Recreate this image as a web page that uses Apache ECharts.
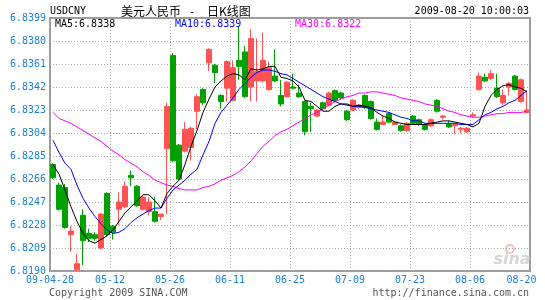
<!DOCTYPE html>
<html><head><meta charset="utf-8">
<script src="https://cdn.jsdelivr.net/npm/echarts@6/dist/echarts.min.js"></script>
<style>html,body{margin:0;padding:0;background:#fff}#c{width:545px;height:300px}</style>
</head><body><div id="c"></div>
<script>
const dates = ['04-28','04-29','04-30','05-04','05-05','05-06','05-07','05-08','05-11','05-12',
'05-13','05-14','05-15','05-18','05-19','05-20','05-21','05-22','05-25','05-26',
'05-27','06-01','06-02','06-03','06-04','06-05','06-08','06-09','06-10','06-11',
'06-12','06-15','06-16','06-17','06-18','06-19','06-22','06-23','06-24','06-25',
'06-26','06-29','06-30','07-01','07-02','07-03','07-06','07-07','07-08','07-09',
'07-10','07-13','07-14','07-15','07-16','07-17','07-20','07-21','07-22','07-23',
'07-24','07-27','07-28','07-29','07-30','07-31','08-03','08-04','08-05','08-06',
'08-07','08-10','08-11','08-12','08-13','08-14','08-17','08-18','08-19','08-20'];

const open = [6.8278,6.8261,6.8259,6.8220,6.8191,6.8236,6.8221,6.8220,6.8209,6.8254,
6.8227,6.8241,6.8243,6.8269,6.8260,6.8241,6.8239,6.8239,6.8235,6.8291,
6.8368,6.8294,6.8289,6.8292,6.8322,6.8340,6.8362,6.8360,6.8335,6.8341,
6.8331,6.8364,6.8371,6.8342,6.8347,6.8347,6.8340,6.8351,6.8335,6.8334,
6.8342,6.8337,6.8330,6.8326,6.8318,6.8329,6.8327,6.8339,6.8337,6.8322,
6.8323,6.8325,6.8335,6.8330,6.8313,6.8311,6.8320,6.8311,6.8310,6.8306,
6.8318,6.8315,6.8311,6.8310,6.8331,6.8317,6.8311,6.8310,6.8307,6.8305,
6.8318,6.8340,6.8350,6.8349,6.8341,6.8329,6.8342,6.8351,6.8330,6.8321];

const close = [6.8267,6.8241,6.8226,6.8223,6.8196,6.8215,6.8217,6.8217,6.8237,6.8220,
6.8222,6.8247,6.8260,6.8267,6.8244,6.8251,6.8247,6.8231,6.8237,6.8326,
6.8281,6.8266,6.8307,6.8308,6.8334,6.8329,6.8373,6.8354,6.8330,6.8363,
6.8358,6.8359,6.8334,6.8382,6.8355,6.8364,6.8358,6.8347,6.8328,6.8346,
6.8341,6.8334,6.8305,6.8324,6.8323,6.8324,6.8337,6.8331,6.8333,6.8315,
6.8331,6.8327,6.8325,6.8316,6.8307,6.8313,6.8313,6.8313,6.8306,6.8312,
6.8312,6.8311,6.8307,6.8315,6.8322,6.8318,6.8309,6.8311,6.8308,6.8308,
6.8319,6.8351,6.8347,6.8353,6.8334,6.8335,6.8345,6.8340,6.8348,6.8323];

const low = [6.8266,6.8240,6.8225,6.8206,6.8190,6.8195,6.8214,6.8215,6.8208,6.8219,
6.8216,6.8228,6.8242,6.8260,6.8243,6.8240,6.8236,6.8230,6.8232,6.8237,
6.8280,6.8265,6.8288,6.8281,6.8307,6.8327,6.8355,6.8345,6.8324,6.8330,
6.8330,6.8348,6.8333,6.8330,6.8330,6.8346,6.8339,6.8346,6.8326,6.8333,
6.8340,6.8333,6.8302,6.8305,6.8317,6.8323,6.8326,6.8330,6.8332,6.8314,
6.8322,6.8324,6.8324,6.8315,6.8306,6.8311,6.8312,6.8311,6.8305,6.8305,
6.8311,6.8310,6.8306,6.8309,6.8321,6.8315,6.8308,6.8303,6.8304,6.8304,
6.8317,6.8339,6.8346,6.8348,6.8333,6.8327,6.8335,6.8339,6.8329,6.8320];

const high = [6.8279,6.8263,6.8262,6.8227,6.8204,6.8241,6.8225,6.8222,6.8238,6.8255,
6.8228,6.8255,6.8264,6.8273,6.8261,6.8252,6.8251,6.8251,6.8237,6.8329,
6.8370,6.8295,6.8313,6.8309,6.8336,6.8341,6.8374,6.8361,6.8336,6.8364,
6.8364,6.8392,6.8376,6.8390,6.8382,6.8387,6.8363,6.8373,6.8348,6.8347,
6.8353,6.8344,6.8331,6.8329,6.8324,6.8330,6.8338,6.8340,6.8338,6.8323,
6.8332,6.8328,6.8336,6.8331,6.8316,6.8318,6.8321,6.8314,6.8311,6.8313,
6.8319,6.8316,6.8312,6.8316,6.8332,6.8319,6.8314,6.8311,6.8309,6.8309,
6.8321,6.8354,6.8353,6.8356,6.8353,6.8340,6.8346,6.8352,6.8349,6.8338];

const ma5 = [6.8278,6.8270,6.8257,6.8243,6.8231,6.8221,6.8215,6.8213,6.8216,6.8219,
6.8224,6.8231,6.8238,6.8243,6.8248,6.8253,6.8253,6.8248,6.8242,6.8254,
6.8260,6.8265,6.8278,6.8293,6.8306,6.8321,6.8332,6.8342,6.8347,6.8351,
6.8353,6.8352,6.8348,6.8357,6.8356,6.8357,6.8359,6.8359,6.8350,6.8349,
6.8347,6.8342,6.8331,6.8330,6.8326,6.8322,6.8322,6.8326,6.8328,6.8328,
6.8326,6.8327,6.8326,6.8325,6.8321,6.8318,6.8316,6.8313,6.8312,6.8311,
6.8311,6.8311,6.8311,6.8312,6.8313,6.8314,6.8314,6.8313,6.8312,6.8311,
6.8309,6.8312,6.8326,6.8335,6.8340,6.8343,6.8344,6.8342,6.8341,6.8338];

const ma10 = [6.8298,6.8288,6.8279,6.8274,6.8261,6.8250,6.8242,6.8235,6.8229,6.8224,
6.8221,6.8222,6.8225,6.8230,6.8234,6.8237,6.8240,6.8242,6.8242,6.8250,
6.8257,6.8261,6.8265,6.8270,6.8274,6.8286,6.8297,6.8312,6.8321,6.8327,
6.8333,6.8340,6.8345,6.8350,6.8354,6.8356,6.8356,6.8355,6.8353,6.8352,
6.8349,6.8346,6.8343,6.8340,6.8337,6.8334,6.8332,6.8330,6.8328,6.8327,
6.8326,6.8326,6.8325,6.8324,6.8323,6.8322,6.8321,6.8319,6.8317,6.8316,
6.8314,6.8314,6.8312,6.8312,6.8312,6.8312,6.8312,6.8312,6.8311,6.8311,
6.8311,6.8315,6.8319,6.8321,6.8324,6.8326,6.8329,6.8331,6.8335,6.8339];

const ma30 = [6.8321,6.8316,6.8314,6.8312,6.8309,6.8306,6.8303,6.8300,6.8297,6.8293,
6.8289,6.8286,6.8282,6.8279,6.8276,6.8272,6.8269,6.8265,6.8263,6.8261,
6.8260,6.8258,6.8257,6.8257,6.8257,6.8259,6.8260,6.8262,6.8265,6.8267,
6.8269,6.8272,6.8276,6.8281,6.8287,6.8293,6.8297,6.8302,6.8305,6.8307,
6.8310,6.8313,6.8316,6.8319,6.8321,6.8324,6.8327,6.8330,6.8332,6.8334,
6.8335,6.8337,6.8337,6.8338,6.8338,6.8337,6.8336,6.8335,6.8333,6.8332,
6.8331,6.8330,6.8328,6.8327,6.8326,6.8324,6.8322,6.8321,6.8319,6.8318,
6.8317,6.8317,6.8318,6.8319,6.8320,6.8320,6.8321,6.8321,6.8321,6.8322];

const yTicks = ['6.8190','6.8209','6.8228','6.8247','6.8266','6.8285','6.8304','6.8323','6.8342','6.8361','6.8380','6.8399'];
const xTicks = ['09-04-28','05-12','05-26','06-11','06-25','07-09','07-23','08-06','08-20'];

const MONO = '"DejaVu Sans Mono", monospace';
const CJK = '"Noto Sans CJK SC", sans-serif';
const BLUE_LBL = '#1a7fd6';
const UP = '#ff5353';
const DOWN = '#00a000';
const gridLine = {show: true, lineStyle: {color: '#aaaaaa', width: 1, type: [1, 2]}};

const candleData = open.map((o, i) => [o, close[i], low[i], high[i]]);
const last = a => a[a.length - 1].toFixed(4);

const chart = echarts.init(document.getElementById('c'), null, {renderer: 'canvas'});
chart.setOption({
  animation: false,
  backgroundColor: '#ffffff',
  grid: {left: 50, right: 15, top: 18, bottom: 29, show: true, borderColor: '#9a9a9a', borderWidth: 2, backgroundColor: 'transparent'},
  xAxis: [
    {type: 'category', data: dates, boundaryGap: true, show: false, position: 'bottom'},
    {type: 'value', min: 0, max: 80, interval: 10, position: 'bottom',
     axisLine: {show: false}, axisTick: {show: false}, splitLine: gridLine,
     axisLabel: {show: true, margin: 4, color: BLUE_LBL, fontFamily: MONO, fontSize: 10,
       formatter: v => {
         const i = Math.round(v / 10);
         return i === xTicks.length - 1 ? '{r|' + xTicks[i] + '}' : xTicks[i];
       },
       rich: {r: {padding: [0, 17, 0, 0], color: BLUE_LBL, fontFamily: MONO, fontSize: 10}}}}
  ],
  yAxis: [
    {type: 'value', min: 6.8190, max: 6.8399, show: false, position: 'left'},
    {type: 'value', min: 0, max: 11, interval: 1, position: 'left',
     axisLine: {show: false}, axisTick: {show: false}, splitLine: gridLine,
     axisLabel: {margin: 4, color: BLUE_LBL, fontFamily: MONO, fontSize: 10,
       padding: [0, 0, 4, 0], formatter: v => yTicks[Math.round(v)]}}
  ],
  series: [
    {type: 'candlestick', xAxisIndex: 0, yAxisIndex: 0, data: candleData, barWidth: 5,
     itemStyle: {color: UP, color0: DOWN, borderColor: UP, borderColor0: DOWN, borderColorDoji: UP, borderWidth: 1}},
    {type: 'line', name: 'MA30', xAxisIndex: 0, yAxisIndex: 0, data: ma30, symbol: 'none', silent: true, z: 3,
     lineStyle: {color: '#ff00ff', width: 1}},
    {type: 'line', name: 'MA10', xAxisIndex: 0, yAxisIndex: 0, data: ma10, symbol: 'none', silent: true, z: 3,
     lineStyle: {color: '#0000ff', width: 1}},
    {type: 'line', name: 'MA5', xAxisIndex: 0, yAxisIndex: 0, data: ma5, symbol: 'none', silent: true, z: 3,
     lineStyle: {color: '#000000', width: 1}}
  ],
  graphic: [
    {type: 'text', x: 50, y: 11, style: {text: 'USDCNY', fill: '#000', font: '10px ' + MONO, align: 'left', verticalAlign: 'middle'}},
    {type: 'text', x: 121, y: 11, style: {text: '美元人民币', fill: '#000', font: '12px ' + CJK, align: 'left', verticalAlign: 'middle'}},
    {type: 'text', x: 190, y: 11, style: {text: '-', fill: '#000', font: '12px ' + CJK, align: 'left', verticalAlign: 'middle'}},
    {type: 'text', x: 207, y: 11, style: {text: '日K线图', fill: '#000', font: '12px ' + CJK, align: 'left', verticalAlign: 'middle'}},
    {type: 'text', x: 529, y: 11, style: {text: '2009-08-20 10:00:03', fill: '#000', font: '10px ' + MONO, align: 'right', verticalAlign: 'middle'}},
    {type: 'text', x: 55, y: 24, z: 10, style: {text: 'MA5:' + last(ma5), fill: '#000', font: '10px ' + MONO, align: 'left', verticalAlign: 'middle'}},
    {type: 'text', x: 175, y: 24, z: 10, style: {text: 'MA10:' + last(ma10), fill: '#0000ff', font: '10px ' + MONO, align: 'left', verticalAlign: 'middle'}},
    {type: 'text', x: 295, y: 24, z: 10, style: {text: 'MA30:' + last(ma30), fill: '#ff00ff', font: '10px ' + MONO, align: 'left', verticalAlign: 'middle'}},
    {type: 'text', x: 49, y: 293, style: {text: 'Copyright 2009 SINA.COM', fill: '#555', font: '10px ' + MONO, align: 'left', verticalAlign: 'middle'}},
    {type: 'text', x: 529, y: 293, style: {text: 'http://finance.sina.com.cn', fill: '#555', font: '10px ' + MONO, align: 'right', verticalAlign: 'middle'}},
    {type: 'circle', shape: {cx: 510, cy: 249, r: 4}, style: {fill: 'none', stroke: '#f6c0c0', lineWidth: 2}},
    {type: 'text', x: 512, y: 260, style: {text: 'sina', fill: '#d6d6d6', font: 'italic bold 16px "DejaVu Sans", sans-serif', align: 'center', verticalAlign: 'middle'}}
  ]
});
</script></body></html>
